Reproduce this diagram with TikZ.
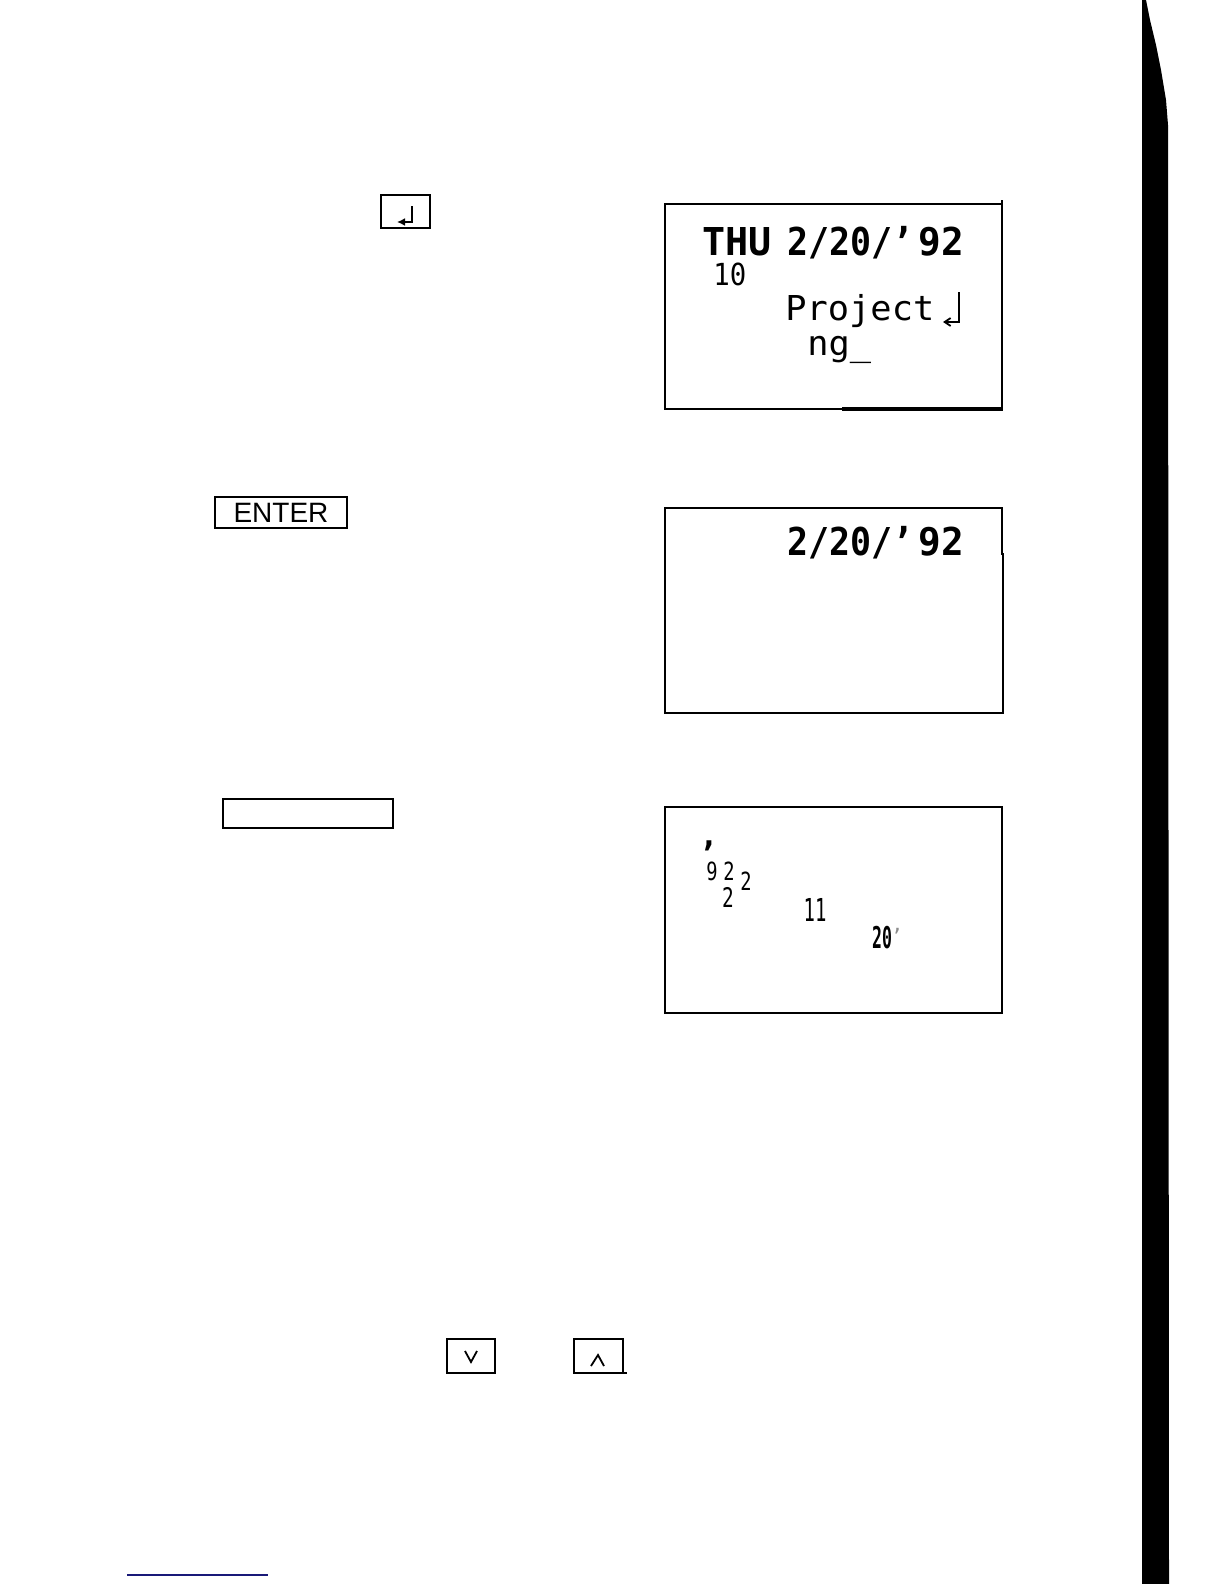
\documentclass[tikz,border=0pt]{standalone}
\usepackage{fontspec}
\setmainfont{Liberation Sans}
\newfontfamily\lcd{DejaVu Sans Mono}
\usetikzlibrary{arrows.meta}
\definecolor{navy}{RGB}{25,25,120}
\begin{document}
\begin{tikzpicture}[x=0.5pt,y=-0.5pt,
  keybox/.style={line width=1.3pt},
  lcdbox/.style={line width=1.4pt},
  txt/.style={inner sep=0pt, anchor=base west},
  ctxt/.style={inner sep=0pt, anchor=base}]
\useasboundingbox (0,0) rectangle (1224,1584);

% ---------- key with return arrow ----------
\draw[keybox] (381,195) rectangle (430,228);
\draw[line width=1.1pt,-{Latex[length=4pt,width=4pt]}] (412,206) -- (412,222) -- (397,222);

% ---------- display 1 ----------
\draw[lcdbox] (665,204) rectangle (1002,409);
\draw[line width=1.1pt] (1002,200) -- (1002,204);
\draw[line width=1.8pt] (842,409) -- (1003,409);
\node[txt] (thu) at (702,255) {\lcd\bfseries\fontsize{19.2}{20}\selectfont\scalebox{1.0}[1]{THU}};
\node[txt] (dateA) at (787,255) {\lcd\bfseries\fontsize{19.2}{20}\selectfont\scalebox{0.91}[1]{2/20/’}};
\node[txt] (yearA) at (918,255) {\lcd\bfseries\fontsize{19.2}{20}\selectfont\scalebox{0.98}[1]{92}};
\node[txt] (ten) at (713,285) {\lcd\fontsize{15.2}{16}\selectfont\scalebox{0.9}[1]{10}};
\node[txt] (proj) at (785,320) {\lcd\fontsize{17.15}{18}\selectfont\scalebox{1.03}[1]{Project}};
\draw[line width=0.9pt,-{Straight Barb[length=3pt,width=4pt]}] (959,292) -- (959,322) -- (943,322);
\node[txt] (ng) at (807,355) {\lcd\fontsize{17.15}{18}\selectfont\scalebox{1.03}[1]{ng\_}};

% ---------- ENTER key ----------
\draw[keybox] (215,497) rectangle (347,528);
\node[inner sep=0pt] (enter) at (281,513) {\fontsize{14}{16}\selectfont ENTER};

% ---------- display 2 ----------
\draw[lcdbox] (665,508) -- (1002,508) -- (1002,555);
\draw[lcdbox] (1003,553) -- (1003,713) -- (665,713);
\draw[lcdbox] (665,507.3) -- (665,713.7);
\node[txt] (dateB) at (787,555) {\lcd\bfseries\fontsize{19.2}{20}\selectfont\scalebox{0.91}[1]{2/20/’}};
\node[txt] (yearB) at (918,555) {\lcd\bfseries\fontsize{19.2}{20}\selectfont\scalebox{0.98}[1]{92}};

% ---------- blank key ----------
\draw[keybox] (223,799) rectangle (393,828);

% ---------- display 3 ----------
\draw[lcdbox] (665,807) rectangle (1002,1013);
\node[ctxt] (comma) at (709,846) {\lcd\fontsize{16}{18}\selectfont\bfseries ,};
\node[ctxt] (nine) at (712,880) {\lcd\fontsize{12.5}{14}\selectfont\scalebox{0.75}[1]{9}};
\node[ctxt] (twoA) at (729,880) {\lcd\fontsize{12.5}{14}\selectfont\scalebox{0.75}[1]{2}};
\node[ctxt] (twoB) at (746,890) {\lcd\fontsize{12.5}{14}\selectfont\scalebox{0.75}[1]{2}};
\node[ctxt] (twoC) at (728,907) {\lcd\fontsize{13.5}{15}\selectfont\scalebox{0.72}[1]{2}};
\node[ctxt] (eleven) at (815,921) {\lcd\fontsize{15.8}{17}\selectfont\scalebox{0.6}[1]{11}};
\node[ctxt] (twenty) at (882,948) {\lcd\fontsize{15}{17}\selectfont\bfseries\scalebox{0.55}[1]{20}};
\node[ctxt, text=black!45] (quote) at (897,943) {\lcd\fontsize{10}{12}\selectfont ’};

% ---------- arrow keys ----------
\draw[keybox] (447,1339) rectangle (495,1373);
\draw[line width=0.9pt] (465,1351) -- (471,1362) -- (477,1351);
\draw[keybox] (574,1339) rectangle (623,1373);
\draw[keybox] (623,1373) -- (627,1373);
\draw[line width=0.9pt] (591,1366) -- (598,1355) -- (604,1366);

% ---------- right black bar ----------
\fill[black] (1142,0) -- (1146,0) -- (1150,20) -- (1156,45) -- (1161,70) -- (1166,100) -- (1168,125) -- (1169,1584) -- (1142,1584) -- cycle;

% ---------- bottom blue rule ----------
\draw[navy, line width=1pt] (127,1575) -- (268,1575);
\end{tikzpicture}
\end{document}
